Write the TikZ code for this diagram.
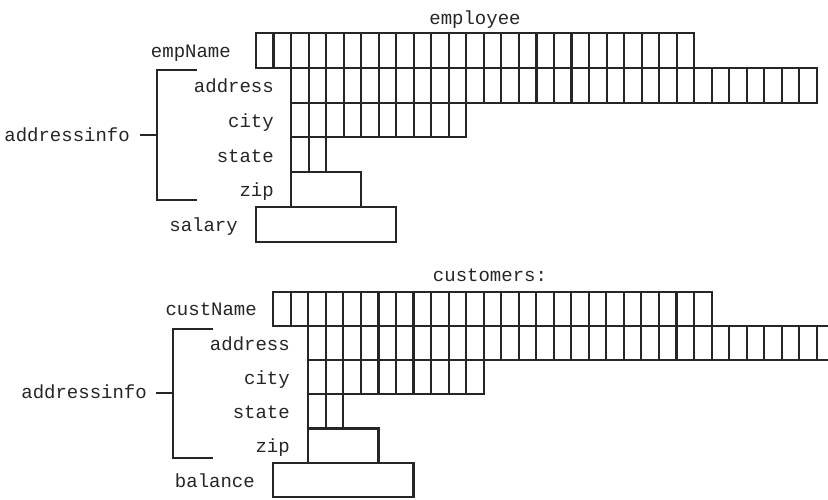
\documentclass[tikz,border=0pt]{standalone}
\usepackage{fontspec}
\setmonofont{Liberation Mono}
\newcommand\lbl{\ttfamily\fontsize{19}{21}\selectfont}
% one row of equal character cells: x offset (cells), row index, cell count, cell count - 1
\newcommand\cellrow[4]{%
  \draw[cellline] ({#1*\cw},{#2*\rh}) rectangle ({(#1+#3)*\cw},{(#2+1)*\rh});
  \foreach \k in {1,...,#4}
    \draw[cellline] ({(#1+\k)*\cw},{#2*\rh}) -- ++(0,\rh);
}
% one undivided field box: x offset (cells), row index, width (cells)
\newcommand\fieldbox[3]{%
  \draw[cellline] ({#1*\cw},{#2*\rh}) rectangle ({(#1+#3)*\cw},{(#2+1)*\rh});
}
\tikzset{
  cellline/.style={draw=black!85, line width=2.1pt},
  bracketline/.style={draw=black!85, line width=2.1pt},
  fieldlabel/.style={anchor=base east, inner sep=0pt, font=\lbl, text=black!85, yshift=-6pt},
  titlelabel/.style={anchor=base, inner sep=0pt, font=\lbl, text=black!85, yshift=-6pt}
}
\begin{document}
\begin{tikzpicture}[x=1pt,y=-1pt]
\clip (0,0) rectangle (828,499);
\fill[white] (0,0) rectangle (828,499);
\def\cw{17.53}

% ---- employee record ----
\def\rh{34.8}
\begin{scope}[shift={(256,33)}]
  \cellrow{0}{0}{25}{24}
  \cellrow{2}{1}{30}{29}
  \cellrow{2}{2}{10}{9}
  \cellrow{2}{3}{2}{1}
  \fieldbox{2}{4}{4}
  \fieldbox{0}{5}{8}
\end{scope}
\node[titlelabel] (emp) at (475,18) {employee};
\node[fieldlabel] (empName) at (231,51) {empName};
\node[fieldlabel] (eaddr) at (274,86) {address};
\node[fieldlabel] (ecity) at (274,121) {city};
\node[fieldlabel] (estate) at (274,156) {state};
\node[fieldlabel] (ezip) at (274,190.5) {zip};
\node[fieldlabel] (esal) at (238,225) {salary};
\node[fieldlabel] (eai) at (130,135) {addressinfo};
\coordinate (ebt) at (197,70);
\coordinate (ebm) at (157,135);
\coordinate (ebb) at (197,200);
\draw[bracketline] (ebt) -| (ebm) |- (ebb);
\draw[bracketline] ([xshift=10pt]eai.east |- ebm) -- (ebm);

% ---- customers record ----
\def\rh{34.2}
\begin{scope}[shift={(273.3,291.7)}]
  \cellrow{0}{0}{25}{24}
  \cellrow{2}{1}{30}{29}
  \cellrow{2}{2}{10}{9}
  \cellrow{2}{3}{2}{1}
  \fieldbox{2}{4}{4}
  \fieldbox{0}{5}{8}
\end{scope}
\node[titlelabel] (cust) at (490,275) {customers:};
\node[fieldlabel] (custName) at (257,309.5) {custName};
\node[fieldlabel] (caddr) at (290,344) {address};
\node[fieldlabel] (ccity) at (290,378) {city};
\node[fieldlabel] (cstate) at (290,412) {state};
\node[fieldlabel] (czip) at (290,446.5) {zip};
\node[fieldlabel] (cbal) at (255,481) {balance};
\node[fieldlabel] (cai) at (147,392.7) {addressinfo};
\coordinate (cbt) at (213,329.3);
\coordinate (cbm) at (173.3,392.7);
\coordinate (cbb) at (213,458.3);
\draw[bracketline] (cbt) -| (cbm) |- (cbb);
\draw[bracketline] ([xshift=9pt]cai.east |- cbm) -- (cbm);
\end{tikzpicture}
\end{document}
